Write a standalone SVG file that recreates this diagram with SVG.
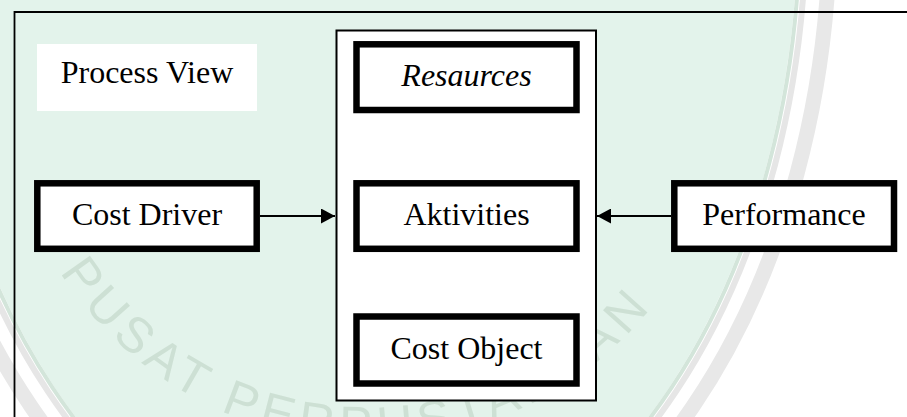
<svg xmlns="http://www.w3.org/2000/svg" width="907" height="417" viewBox="0 0 907 417">
  <defs>
    <style>
      .lbl { font-family: 'Liberation Serif', 'Times New Roman', Times, serif; font-size: 32px; fill: #000; text-anchor: middle; }
      .it { font-style: italic; }
      .node { fill: #fff; stroke: #000; stroke-width: 6.5; }
      .wire { stroke: #000; stroke-width: 2; fill: none; }
      .wm { font-family: 'Liberation Sans', Arial, sans-serif; font-size: 50px; fill: #cde0d4; letter-spacing: 6.5px; }
    </style>
    <marker id="head" viewBox="0 0 14 15" refX="14" refY="7.5" markerWidth="14" markerHeight="15" markerUnits="userSpaceOnUse" orient="auto">
      <path d="M0,0 L14,7.5 L0,15 Z" fill="#000"/>
    </marker>
    <!-- circular baseline for the seal lettering -->
    <path id="wmArc" d="M60,272 A365,365 0 0 0 684,260"/>
  </defs>

  <rect width="907" height="417" fill="#fff"/>

  <!-- background seal -->
  <g id="watermark">
    <ellipse cx="362" cy="-80" rx="436" ry="659" fill="#e3f3eb"/>
    <ellipse cx="362" cy="-80" rx="438" ry="661" fill="none" stroke="#d3e5da" stroke-width="4"/>
    <ellipse cx="362" cy="-80" rx="444" ry="667" fill="none" stroke="#e6e6e6" stroke-width="6"/>
    <ellipse cx="362" cy="-80" rx="468" ry="688" fill="none" stroke="#e8e8e8" stroke-width="15"/>
    <text class="wm"><textPath href="#wmArc" startOffset="0">PUSAT PERPUSTAKAAN</textPath></text>
  </g>

  <!-- outer frame (top and left edges) -->
  <g id="frame">
    <path d="M14.5,417 V12 H907" fill="none" stroke="#000" stroke-width="1.8"/>
  </g>

  <g id="process-view">
    <rect x="37" y="44" width="220" height="67" fill="#fff"/>
    <text class="lbl" x="147" y="83">Process View</text>
  </g>

  <g id="container">
    <rect x="336.5" y="30.5" width="259.5" height="370" fill="#fff" stroke="#000" stroke-width="2"/>
  </g>

  <g id="resaurces">
    <rect class="node" x="356.5" y="44.3" width="220" height="65.7"/>
    <text class="lbl it" x="466.5" y="86">Resaurces</text>
  </g>

  <g id="aktivities">
    <rect class="node" x="356.5" y="183.3" width="220" height="65.5"/>
    <text class="lbl" x="466.5" y="225">Aktivities</text>
  </g>

  <g id="cost-object">
    <rect class="node" x="356.5" y="316.5" width="220" height="67"/>
    <text class="lbl" x="466.5" y="358.5">Cost Object</text>
  </g>

  <g id="cost-driver">
    <rect class="node" x="37.3" y="183.3" width="219.4" height="65.5"/>
    <text class="lbl" x="147" y="225">Cost Driver</text>
  </g>

  <g id="performance">
    <rect class="node" x="674.3" y="183.3" width="219.7" height="65.5"/>
    <text class="lbl" x="784" y="225">Performance</text>
  </g>

  <g id="connectors">
    <line class="wire" x1="260" y1="216" x2="335" y2="216" marker-end="url(#head)"/>
    <line class="wire" x1="671" y1="216" x2="597" y2="216" marker-end="url(#head)"/>
  </g>
</svg>
